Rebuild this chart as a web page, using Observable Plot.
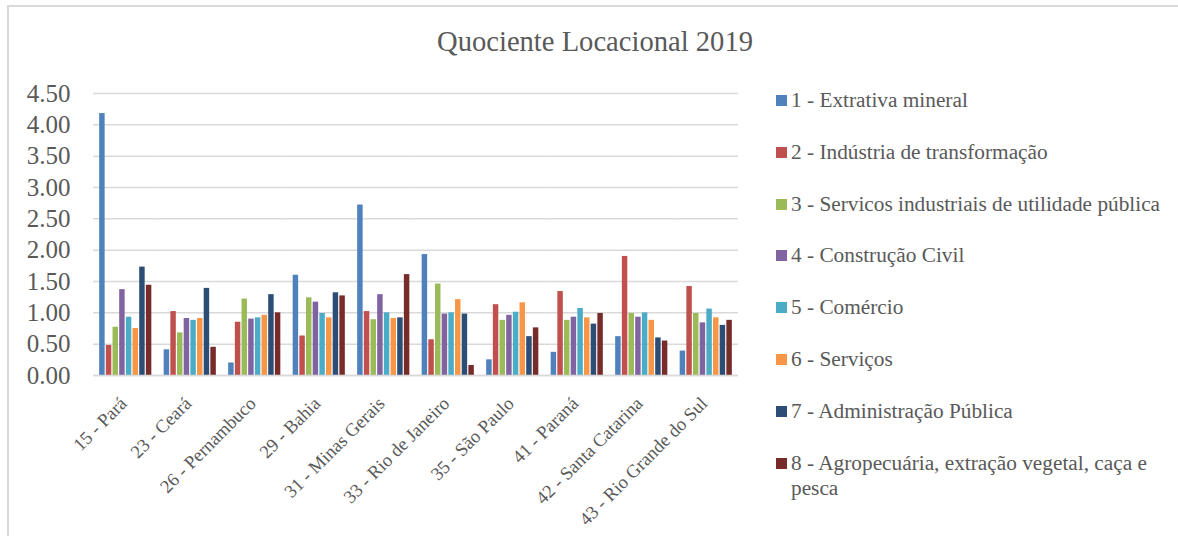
<!DOCTYPE html>
<html>
<head>
<meta charset="utf-8">
<script src="https://cdn.jsdelivr.net/npm/d3@7"></script>
<script src="https://cdn.jsdelivr.net/npm/@observablehq/plot@0.6"></script>
<style>
  html, body { margin: 0; padding: 0; background: #fff; }
  #wrap { position: relative; width: 1178px; height: 536px; overflow: hidden; font-family: "Liberation Serif", "Times New Roman", serif; color: #595959; }
  #border { position: absolute; left: 7px; top: 5px; right: -4px; bottom: -4px; border-left: 2px solid #d9d9d9; border-top: 2px solid #d9d9d9; }
  #title { position: absolute; left: 0; width: 1178px; top: 26px; text-align: center; font-size: 28.6px; padding-left: 12px; box-sizing: border-box; }
  #chart { position: absolute; left: 0; top: 0; }
  #legend { position: absolute; left: 776px; top: 88px; }
  .item { position: absolute; left: 0; display: flex; align-items: flex-start; font-size: 21.3px; line-height: 25px; }
  .sw { width: 11px; height: 11px; margin-top: 7px; margin-right: 4px; flex: none; }
  .lbl { white-space: nowrap; }
  .lbl.wrap { white-space: normal; width: 365px; }
</style>
</head>
<body>
<div id="wrap">
  <div id="border"></div>
  <div id="title"></div>
  <div id="chart"></div>
  <div id="legend"></div>
</div>
<script>
const title = "Quociente Locacional 2019";
const states = ["15 - Pará", "23 - Ceará", "26 - Pernambuco", "29 - Bahia", "31 - Minas Gerais",
  "33 - Rio de Janeiro", "35 - São Paulo", "41 - Paraná", "42 - Santa Catarina", "43 - Rio Grande do Sul"];
const sectors = ["1 - Extrativa mineral", "2 - Indústria de transformação",
  "3 - Servicos industriais de utilidade pública", "4 - Construção Civil", "5 - Comércio",
  "6 - Serviços", "7 - Administração Pública", "8 - Agropecuária, extração vegetal, caça e pesca"];
const colors = ["#4F81BD", "#C0504D", "#9BBB59", "#8064A2", "#4BACC6", "#F79646", "#2C4D75", "#772C2A"];
const yTicks = [0, 0.5, 1, 1.5, 2, 2.5, 3, 3.5, 4, 4.5];

// one array per sector, values in state order
const extrativaMineral   = [4.18, 0.41, 0.20, 1.60, 2.72, 1.93, 0.25, 0.37, 0.62, 0.39];
const industriaTransf    = [0.48, 1.02, 0.85, 0.63, 1.02, 0.57, 1.13, 1.34, 1.90, 1.42];
const servicosIndustriais= [0.77, 0.68, 1.22, 1.24, 0.89, 1.46, 0.88, 0.88, 0.99, 0.99];
const construcaoCivil    = [1.37, 0.91, 0.90, 1.17, 1.29, 0.98, 0.96, 0.93, 0.93, 0.84];
const comercio           = [0.93, 0.88, 0.92, 0.99, 1.00, 1.00, 1.01, 1.07, 1.00, 1.06];
const servicos           = [0.75, 0.91, 0.96, 0.92, 0.91, 1.21, 1.16, 0.92, 0.88, 0.92];
const adminPublica       = [1.73, 1.39, 1.29, 1.32, 0.92, 0.98, 0.62, 0.82, 0.60, 0.80];
const agropecuaria       = [1.44, 0.45, 1.00, 1.27, 1.61, 0.16, 0.76, 0.99, 0.55, 0.88];

const series = [extrativaMineral, industriaTransf, servicosIndustriais, construcaoCivil,
  comercio, servicos, adminPublica, agropecuaria];

const data = [];
states.forEach((st, i) => sectors.forEach((sec, j) => data.push({state: st, sector: sec, value: series[j][i]})));

document.getElementById("title").textContent = title;

const font = '"Liberation Serif", "Times New Roman", serif';
const chart = Plot.plot({
  width: 1178,
  height: 536,
  marginLeft: 93,
  marginRight: 440,
  marginTop: 93,
  marginBottom: 161,
  style: {fontFamily: font, color: "#595959", background: "transparent", overflow: "visible"},
  fx: {domain: states, padding: 0, round: false, label: null},
  x: {domain: sectors, axis: null, paddingInner: 0, paddingOuter: 0.835, round: false},
  y: {domain: [0, 4.5], label: null},
  color: {domain: sectors, range: colors},
  marks: [
    Plot.gridY(yTicks, {stroke: "#d9d9d9", strokeOpacity: 1, strokeWidth: 1.5}),
    Plot.axisY(yTicks, {tickSize: 0, tickPadding: 23, fontSize: 25, tickFormat: d3.format(".2f"), label: null, fill: "#595959"}),
    Plot.barY(data, {fx: "state", x: "sector", y: "value", fill: "sector", insetLeft: 0.6, insetRight: 0.6}),
    Plot.ruleY([0], {stroke: "#d9d9d9", strokeWidth: 1.5}),
    Plot.axisFx({anchor: "bottom", tickRotate: -45, tickSize: 0, tickPadding: 25, dx: -2, fontSize: 18.5, label: null, fill: "#595959"})
  ]
});
document.getElementById("chart").appendChild(chart);

const legend = document.getElementById("legend");
sectors.forEach((s, i) => {
  const it = document.createElement("div");
  it.className = "item";
  it.style.top = (i * 51.8) + "px";
  const sw = document.createElement("div");
  sw.className = "sw";
  sw.style.background = colors[i];
  const lb = document.createElement("div");
  lb.className = "lbl" + (i === sectors.length - 1 ? " wrap" : "");
  lb.textContent = s;
  it.appendChild(sw); it.appendChild(lb);
  legend.appendChild(it);
});
</script>
</body>
</html>
